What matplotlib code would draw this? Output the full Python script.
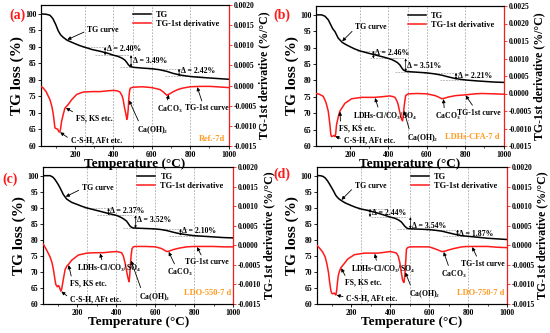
import numpy as np
import matplotlib
matplotlib.use("Agg")
import matplotlib.pyplot as plt

plt.rcParams['font.family'] = ['Liberation Serif', 'DejaVu Serif']
plt.rcParams['font.weight'] = 'bold'
plt.rcParams['mathtext.fontset'] = 'custom'
plt.rcParams['mathtext.rm'] = 'Liberation Serif:bold'
plt.rcParams['mathtext.bf'] = 'Liberation Serif:bold'
plt.rcParams['mathtext.default'] = 'bf'

# ---------------- data ----------------
tg_T_a = [25, 50, 70, 85, 100, 113, 125, 139, 160, 180, 200, 225, 252, 290, 330, 370, 400, 420, 434, 448, 460,
          470, 478, 487, 495, 510, 550, 600, 640, 678, 710, 747, 780, 808, 850, 900, 950, 1000]
tg_a = [100, 99.9, 99.6, 98.6, 96.8, 94.9, 93.7, 92.9, 92.0, 91.5, 91.0, 90.4, 89.9, 89.2, 88.7, 88.1, 87.5, 87.2,
        86.9, 86.5, 86.0, 85.3, 84.6, 84.1, 83.95, 83.8, 83.6, 83.4, 83.1, 82.6, 82.0, 81.5, 81.2, 81.0, 80.8,
        80.6, 80.4, 80.2]
d_T_a = [25, 33, 50, 70, 80, 87, 96, 103, 110, 117, 122, 126, 130, 140, 148, 165, 183, 209, 243, 290, 330, 370,
         400, 420, 434, 445, 451, 458, 465, 470, 473, 477, 480, 483, 486, 490, 503, 550, 600, 643, 660, 678, 695,
         712, 740, 764, 800, 851, 900, 937, 1000]
d_a = [-0.3, -0.5, -1.5, -3.5, -5.2, -7.0, -10.5, -10.7, -10.8, -11.5, -11.5, -10.5, -9.0, -7.0, -5.6, -4.7,
       -3.5, -2.2, -1.6, -1.5, -1.5, -1.3, -1.2, -1.3, -1.6, -2.5, -3.5, -5.5, -7.0, -8.4, -8.0, -6.0, -3.5,
       -1.8, -0.9, -0.6, -0.4, -0.3, -0.5, -1.0, -1.6, -2.4, -2.0, -1.5, -0.9, -0.6, -0.3, -0.2, -0.2, -0.3, -0.5]

tg_T_b = [25, 52, 70, 87, 100, 110, 122, 139, 160, 180, 200, 225, 252, 290, 330, 370, 400, 420, 434, 448, 460,
          470, 478, 490, 500, 550, 600, 640, 678, 710, 747, 780, 808, 850, 900, 950, 1000]
tg_b = [100, 100, 99.6, 98.5, 97.0, 95.8, 94.9, 92.9, 91.6, 90.9, 90.3, 89.6, 89.0, 88.4, 87.8, 87.2, 86.7,
        86.3, 85.9, 85.4, 84.7, 83.8, 83.2, 82.8, 82.7, 82.5, 82.3, 82.0, 81.6, 81.1, 80.6, 80.3, 80.1, 79.9,
        79.7, 79.5, 79.4]
d_T_b = [25, 40, 61, 75, 87, 96, 100, 104, 110, 117, 122, 126, 130, 140, 148, 160, 174, 209, 261, 330, 370, 408,
         425, 434, 445, 451, 458, 465, 470, 474, 478, 481, 486, 490, 503, 550, 600, 643, 660, 678, 695, 712, 750,
         799, 850, 886, 950, 1000]
d_b = [0.0, -0.2, -0.8, -2.5, -5.0, -9.0, -11.5, -12.3, -12.2, -12.0, -12.3, -11.5, -9.0, -6.5, -5.0, -4.0,
       -2.8, -1.5, -1.1, -1.1, -0.9, -0.7, -0.9, -1.1, -2.2, -3.2, -5.0, -6.6, -7.5, -7.8, -6.0, -4.2, -2.0,
       -0.6, -0.1, 0.0, -0.1, -0.6, -1.0, -1.5, -1.3, -1.0, -0.6, -0.4, -0.1, 0.0, -0.1, -0.2]

tg_T_c = [25, 60, 75, 85, 100, 111, 128, 145, 170, 200, 225, 251, 290, 316, 360, 402, 427, 440, 453, 462, 470,
          478, 487, 520, 560, 600, 630, 658, 690, 726, 760, 798, 850, 900, 950, 1000]
tg_c = [100, 100, 99.5, 98.8, 97.4, 96.2, 94.1, 92.7, 91.7, 91.0, 90.4, 89.9, 89.3, 88.9, 88.2, 87.6, 86.9,
        86.4, 85.8, 85.0, 84.3, 83.9, 83.7, 83.6, 83.5, 83.4, 83.2, 82.9, 82.4, 81.9, 81.6, 81.3, 81.1, 80.9,
        80.7, 80.6]
d_T_c = [25, 35, 43, 60, 70, 77, 84, 89, 97, 102, 106, 111, 115, 120, 125, 131, 137, 146, 154, 171, 205, 248,
         290, 333, 370, 402, 420, 427, 436, 444, 451, 458, 462, 465, 468, 472, 476, 480, 487, 496, 550, 600, 630,
         645, 658, 670, 692, 725, 761, 800, 829, 900, 950, 1000]
d_c = [0.3, -0.6, -1.3, -3.0, -4.5, -6.2, -8.5, -10.0, -10.6, -10.3, -10.5, -11.2, -11.7, -11.0, -9.5, -7.8,
       -6.2, -5.3, -4.9, -3.8, -2.5, -2.0, -1.9, -1.9, -1.7, -1.6, -1.8, -1.9, -2.8, -4.4, -6.2, -8.0, -8.8,
       -9.3, -8.0, -5.0, -2.5, -0.9, -0.4, -0.3, -0.3, -0.4, -0.8, -1.2, -1.6, -1.5, -1.1, -0.7, -0.4, -0.3,
       -0.3, -0.3, -0.4, -0.4]

tg_T_d = [25, 41, 55, 67, 80, 96, 110, 122, 135, 148, 170, 200, 225, 252, 290, 321, 360, 400, 420, 433, 446, 459,
          468, 476, 485, 493, 520, 560, 600, 630, 666, 700, 734, 765, 800, 850, 900, 950, 1000]
tg_d = [100, 100, 99.8, 99.3, 98.3, 96.7, 95.2, 93.8, 92.9, 92.3, 91.5, 90.7, 90.1, 89.6, 89.1, 88.6, 87.9,
        87.1, 86.8, 86.5, 86.1, 85.5, 84.8, 84.2, 83.7, 83.5, 83.4, 83.3, 83.2, 83.0, 82.7, 82.2, 81.7, 81.3,
        81.1, 80.8, 80.5, 80.3, 80.1]
d_T_d = [25, 41, 55, 67, 76, 84, 90, 96, 100, 105, 110, 114, 118, 122, 126, 130, 134, 141, 148, 166, 183, 217,
         269, 338, 370, 400, 420, 433, 442, 450, 457, 464, 468, 471, 474, 478, 481, 484, 490, 502, 550, 600, 631,
         650, 666, 682, 700, 730, 769, 800, 838, 900, 950, 1000]
d_d = [0.0, -0.9, -1.8, -3.0, -4.8, -7.0, -9.5, -11.5, -12.2, -12.4, -12.3, -12.2, -12.5, -12.7, -11.5, -9.5,
       -7.8, -6.5, -5.7, -4.6, -3.5, -2.4, -2.0, -2.0, -1.8, -1.6, -1.8, -2.0, -2.8, -4.4, -6.8, -8.8, -9.3,
       -9.5, -8.5, -6.2, -3.5, -1.0, -0.6, -0.4, -0.4, -0.4, -0.9, -1.3, -1.6, -1.5, -1.2, -0.8, -0.4, -0.3,
       -0.3, -0.3, -0.5, -0.6]

deriv_scale = 1e-4  # derivative values above are in units of 1e-4 %/°C

panel_labels = ['(a)', '(b)', '(c)', '(d)']
sample_names = ['Ref.-7d', 'LDHs-CFA-7 d', 'LDO-550-7 d', 'LDO-750-7 d']
delta_texts = [['2.40%', '3.49%', '2.42%'], ['2.46%', '3.51%', '2.21%'],
               ['2.37%', '3.52%', '2.10%'], ['2.44%', '3.54%', '1.87%']]
segments = [(250, 400), (400, 500), (600, 800)]
guide_T = [250, 400, 500, 600, 800]

# ---------------- layout ----------------
W, H = 550, 333
fig = plt.figure(figsize=(5.5, 3.33), dpi=100)

def fx(px): return px / W
def fy(py): return 1 - py / H

axes_px = [(41.3, 5, 228.7, 146), (316.3, 6, 503.7, 146), (43.3, 167, 233.3, 304), (317, 167, 507, 304)]
right_tops = [0.0020, 0.0025, 0.0020, 0.0020]
label_px = [(17.5, 15), (282, 15), (10, 179), (282, 174)]

RED = '#FF1A1A'
ORANGE = '#FF9A1F'
GREY = '#9a9a9a'
fs_tick = 5.5
fs_ann = 5.6

ann = [
    dict(tg=(265, 95.2, 157), deltas=[(365, 89.4), (500, 85.7), (750, 82.8)],
         fs=(205, 68.3, 150), csh=(178, 61.7, 120), caoh=(522, 64.8, 480), caco=(628, 71.2, 690),
         tgd=(775, 71.4, 835), ldh=None, name=(842, 62.2)),
    dict(tg=(228, 96.2, 157), deltas=[(330, 88.3), (498, 84.4), (760, 81.3)],
         fs=(142, 65.3, 148), csh=(168, 61.7, 120), caoh=(497, 62.4, 480), caco=(645, 68.9, 686),
         tgd=(758, 70.2, 800), ldh=(218, 69.1, 330), name=(697, 62.8)),
    dict(tg=(224, 96.2, 137), deltas=[(368, 89.1), (506, 86.1), (737, 82.7)],
         fs=(163, 66.4, 154), csh=(163, 61.5, 115), caoh=(515, 62.2, 474), caco=(660, 69.7, 667),
         tgd=(754, 73.0, 812), ldh=(198, 71.0, 316), name=(746, 63.5)),
    dict(tg=(219, 96.9, 148), deltas=[(305, 88.4), (512, 84.2), (754, 81.7)],
         fs=(168, 66.6, 148), csh=(176, 61.8, 122), caoh=(495, 63.1, 477), caco=(659, 69.2, 674),
         tgd=(762, 72.6, 820), ldh=(202, 70.8, 321), name=(745, 63.5)),
]

data = [(tg_T_a, tg_a, d_T_a, d_a), (tg_T_b, tg_b, d_T_b, d_b),
        (tg_T_c, tg_c, d_T_c, d_c), (tg_T_d, tg_d, d_T_d, d_d)]

arrow_kw = dict(arrowstyle='-|>', color='black', lw=0.6, mutation_scale=5, shrinkA=0.5, shrinkB=0.5)

for i in range(4):
    x0, y0, x1, y1 = axes_px[i]
    ax = fig.add_axes([fx(x0), fy(y1), fx(x1 - x0), (y1 - y0) / H])
    ax.set_facecolor('none')
    ax2 = ax.twinx()
    ax2.set_facecolor('none')
    T, tg, Td, dd = data[i]
    dvals = np.array(dd) * deriv_scale

    for g in guide_T:
        ax.axvline(g, color=GREY, lw=0.5, ls=(0, (2.5, 2)), zorder=0)

    l1, = ax.plot(T, tg, color='black', lw=1.1, label='TG', zorder=3)
    l2, = ax2.plot(Td, dvals, color=RED, lw=1.1, label='TG-1st derivative', zorder=3)

    ax.set_xlim(25, 1000)
    ax.set_ylim(60, 102.7)
    ax2.set_ylim(-0.0015, right_tops[i])
    ax.set_xticks([200, 400, 600, 800, 1000])
    ax.set_xticks(np.arange(100, 1001, 100), minor=True)
    ax.set_yticks(np.arange(60, 101, 5))
    rt = np.arange(-0.0015, right_tops[i] + 1e-9, 0.0005)
    ax2.set_yticks(rt)
    ax2.set_yticklabels(['%.4f' % v for v in rt])
    for a in (ax, ax2):
        a.tick_params(labelsize=fs_tick, length=2, width=0.6, pad=1.5)
        a.tick_params(which='minor', length=1.2, width=0.5)
    for s in ax.spines.values():
        s.set_linewidth(0.8)
    for s in ax2.spines.values():
        s.set_linewidth(0.8)
    ax2.spines['right'].set_color(RED)
    ax2.tick_params(axis='y', colors=RED, labelcolor='black')

    ax.set_xlabel('Temperature (°C)', fontsize=9.5, fontweight='bold', labelpad=-0.5)
    ax.set_ylabel('TG loss (%)', fontsize=11, fontweight='bold', labelpad=1)
    ax2.set_ylabel('TG-1st derivative (%/°C)', fontsize=8.5, fontweight='bold', labelpad=1)

    ax.legend([l1, l2], ['TG', 'TG-1st derivative'], loc='upper right', bbox_to_anchor=(0.98, 1.0),
              frameon=False, fontsize=6, handlelength=2.2, handletextpad=0.6, labelspacing=0.15,
              borderaxespad=0.3)

    fig.text(fx(label_px[i][0]), fy(label_px[i][1]), panel_labels[i], color=RED, fontsize=10,
             fontweight='bold', ha='center', va='center')

    A = ann[i]
    tx, ty, tt = A['tg']
    ax.annotate('TG curve', xy=(tt, np.interp(tt, T, tg)), xytext=(tx, ty), ha='left', va='center',
                fontsize=fs_ann, arrowprops=dict(relpos=(0, 0.4), **arrow_kw), zorder=5)

    for k, (t1, t2) in enumerate(segments):
        ya = np.interp(t1, T, tg)
        yb = np.interp(t2, T, tg)
        span = t2 - t1
        ax.plot([t1 - 15, t2 - 0.15 * span], [ya, ya], color=GREY, lw=0.5, ls=(0, (2.5, 1.5)), zorder=1)
        ax.plot([t1 + 0.35 * span, t2 + 0.3 * span], [yb, yb], color=GREY, lw=0.5, ls=(0, (2.5, 1.5)),
                zorder=1)
        dx, dy = A['deltas'][k]
        ax.annotate('', xy=(dx - 8, yb), xytext=(dx - 8, ya),
                    arrowprops=dict(arrowstyle='<|-|>', color='black', lw=0.5, mutation_scale=3,
                                    shrinkA=0, shrinkB=0))
        ax.text(dx, dy, 'Δ = ' + delta_texts[i][k], fontsize=fs_ann, ha='left', va='center', zorder=5)

    def dann(text, spec, relpos):
        x, y, t = spec
        ax2.annotate(text, xy=(t, np.interp(t, Td, dvals)), xycoords='data', xytext=(x, y),
                     textcoords=ax.transData, ha='left', va='center', fontsize=fs_ann,
                     arrowprops=dict(relpos=relpos, **arrow_kw), zorder=5)

    dann('FS, KS etc.', A['fs'], (0.05, 1.0))
    dann('C-S-H, AFt etc.', A['csh'], (0.0, 0.6))
    dann('Ca(OH)$_2$', A['caoh'], (0.1, 1.0))
    dann('CaCO$_3$', A['caco'], (0.35, 1.0))
    dann('TG-1st curve', A['tgd'], (0.4, 1.0))
    if A['ldh'] is not None:
        dann('LDHs-Cl/CO$_3$/SO$_4$', A['ldh'], (0.4, 1.0))

    nx, ny = A['name']
    ax.text(nx, ny, sample_names[i], color=ORANGE, fontsize=6, fontweight='bold', ha='left', va='center')

fig.savefig('out.png', dpi=100)
